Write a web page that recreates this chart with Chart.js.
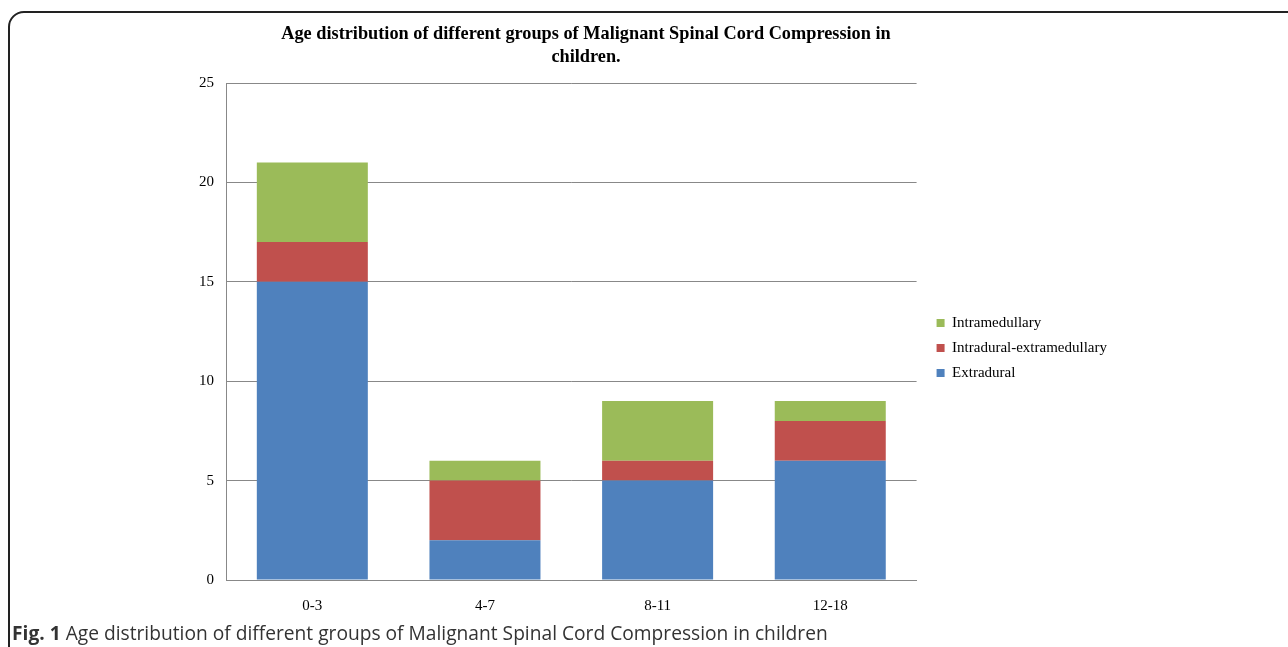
<!DOCTYPE html>
<html lang="en">

<head>
    <meta charset="UTF-8">
    <title>Age distribution</title>
    <style>
        html,
        body {
            margin: 0;
            padding: 0;
            background: #fff;
            overflow: hidden;
        }

        .frame {
            position: absolute;
            left: 8px;
            top: 11px;
            width: 1400px;
            height: 800px;
            border: 2px solid #222;
            border-radius: 16px;
        }

        .chart-box {
            position: absolute;
            left: 55px;
            top: 16px;
            width: 1086px;
            height: 616px;
        }

        .caption {
            position: absolute;
            left: 12px;
            top: 619px;
            font-family: "Open Sans", sans-serif;
            font-size: 19.2px;
            color: #333;
            white-space: nowrap;
        }
    </style>
</head>

<body>
    <div class="frame"></div>
    <div class="chart-box">
        <canvas id="ageChart"></canvas>
    </div>
    <div class="caption"><b>Fig. 1</b> Age distribution of different groups of Malignant Spinal Cord Compression in children</div>
</body>

<script src="https://cdn.jsdelivr.net/npm/chart.js@4.4.6/dist/chart.umd.min.js"></script>
<script>
    const ageGroups = ['0-3', '4-7', '8-11', '12-18'];
    const extradural = [15, 2, 5, 6];
    const intraduralExtramedullary = [2, 3, 1, 2];
    const intramedullary = [4, 1, 3, 1];
    const titleLines = ['Age distribution of different groups of Malignant Spinal Cord Compression in', 'children.'];

    const serif = '"Liberation Serif", "Times New Roman", serif';

    const chart = new Chart(document.getElementById('ageChart'), {
        type: 'bar',
        data: {
            labels: ageGroups,
            datasets: [
                { label: 'Extradural', data: extradural, backgroundColor: '#4F81BD' },
                { label: 'Intradural-extramedullary', data: intraduralExtramedullary, backgroundColor: '#C0504D' },
                { label: 'Intramedullary', data: intramedullary, backgroundColor: '#9BBB59' },
            ]
        },
        options: {
            animation: false,
            responsive: true,
            maintainAspectRatio: false,
            layout: { padding: { left: 0, right: 24, top: 0, bottom: 0 } },
            datasets: {
                bar: { barPercentage: 0.643, categoryPercentage: 1 }
            },
            scales: {
                x: {
                    stacked: true,
                    grid: { display: false, drawTicks: false },
                    border: { color: '#888', width: 1 },
                    ticks: { color: '#000', font: { family: serif, size: 15 }, padding: 17 },
                },
                y: {
                    stacked: true,
                    min: 0,
                    max: 25,
                    ticks: { stepSize: 5, color: '#000', font: { family: serif, size: 15 }, padding: 12 },
                    grid: { color: '#888', drawTicks: false },
                    border: { color: '#888', width: 1 },
                    afterFit: (scale) => { scale.width = 171; },
                },
                // blank spacer between plot and legend
                gap: {
                    type: 'linear',
                    position: 'right',
                    display: true,
                    grid: { display: false },
                    border: { display: false },
                    ticks: { display: false },
                    afterFit: (scale) => { scale.width = 10; },
                },
            },
            plugins: {
                title: {
                    display: true,
                    text: titleLines,
                    color: '#000',
                    font: { family: serif, size: 18.3, weight: 'bold', lineHeight: 1.26 },
                    padding: { top: 7, bottom: 14 },
                },
                legend: {
                    position: 'right',
                    reverse: true,
                    maxWidth: 320,
                    title: { display: true, text: ' ', font: { size: 15 }, padding: { top: 30, bottom: 0 } },
                    labels: {
                        boxWidth: 8,
                        boxHeight: 8,
                        padding: 10,
                        color: '#000',
                        font: { family: serif, size: 15 },
                    },
                },
                tooltip: { enabled: false },
            },
        }
    });
</script>

</html>
